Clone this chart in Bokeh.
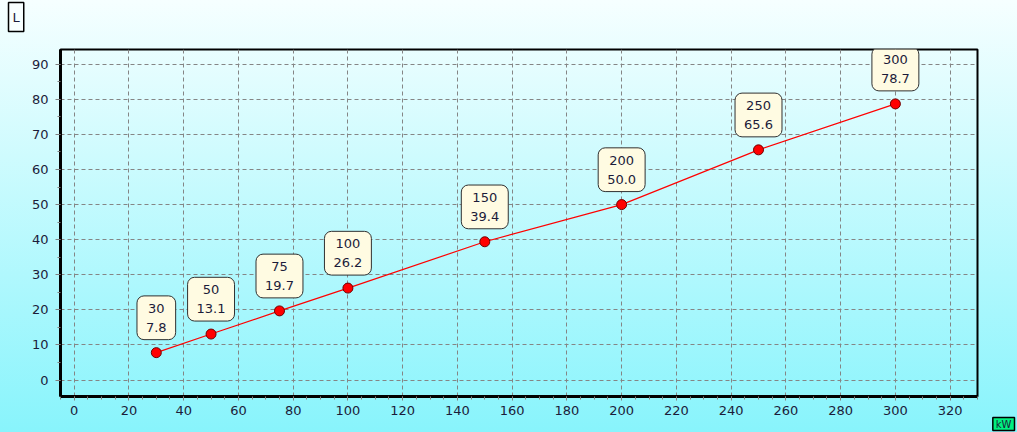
from bokeh.plotting import figure
from bokeh.models import Label, SingleIntervalTicker, Range1d, Title
from bokeh.embed import file_html
from bokeh.resources import INLINE

# data
power_kw = [30, 50, 75, 100, 150, 200, 250, 300]
flow_l = [7.8, 13.1, 19.7, 26.2, 39.4, 50.0, 65.6, 78.7]
x_label = "kW"
y_label = "L"

FONT = "DejaVu Sans"
TXT = "#1c1c3a"

p = figure(
    frame_width=917, frame_height=347,
    min_border_left=60, min_border_top=49, min_border_right=40, min_border_bottom=36,
    x_range=Range1d(-5, 330), y_range=Range1d(-4.7, 94.2),
    output_backend="svg", toolbar_location=None, tools="",
)
p.border_fill_color = None
p.background_fill_color = None
p.styles = {"background": "linear-gradient(to bottom, #f6ffff 0%, #88f4fc 100%)"}
p.outline_line_color = "black"
p.outline_line_width = 2

p.xaxis.ticker = SingleIntervalTicker(interval=20, num_minor_ticks=4)
p.yaxis.ticker = SingleIntervalTicker(interval=10, num_minor_ticks=2)
for ax in (p.xaxis, p.yaxis):
    ax.axis_line_color = "black"
    ax.axis_line_width = 3
    ax.major_tick_in = 0
    ax.major_tick_out = 5
    ax.minor_tick_in = 0
    ax.minor_tick_out = 3
    ax.major_tick_line_color = "#808080"
    ax.minor_tick_line_color = "#808080"
    ax.major_label_text_font = FONT
    ax.major_label_text_font_size = "13px"
    ax.major_label_text_color = TXT
p.xaxis.major_tick_out = 4
p.xaxis.major_label_standoff = 5
p.yaxis.major_label_standoff = 7

for g in (p.xgrid, p.ygrid):
    g.grid_line_color = "#858585"
    g.grid_line_dash = "4 3"
    g.grid_line_width = 1

p.line(power_kw, flow_l, line_color="red", line_width=1.2)
p.scatter(power_kw, flow_l, marker="circle", size=10, fill_color="red", line_color="#700000", line_width=1)

for xv, yv in zip(power_kw, flow_l):
    p.add_layout(Label(
        x=xv, y=yv, y_offset=13, text=f"{xv}\n{yv:.1f}",
        anchor="bottom_center", text_align="center",
        text_font=FONT, text_font_size="13px", text_color=TXT, text_line_height=1.25,
        background_fill_color="#fffbe2", border_line_color="#303030", border_line_width=1,
        padding=dict(left=9, right=9, top=5, bottom=5), border_radius=7,
    ))

# spacer between the frame and the axis-name box above it (closest to the frame)
p.add_layout(Title(text=" ", text_font_size="13px", standoff=1), "above")

# y axis name box (outermost item above the frame)
p.title.text = y_label
p.title.align = "left"
p.title.offset = -52
p.title.standoff = 0
p.title.text_font = FONT
p.title.text_font_size = "13px"
p.title.text_font_style = "normal"
p.title.text_color = TXT
p.title.background_fill_color = "#f8ffff"
p.title.border_line_color = "black"
p.title.border_line_width = 1.5
p.title.padding = dict(left=4, right=4, top=7, bottom=7)

# x axis name box, bottom right
p.add_layout(Title(
    text=x_label, align="right", offset=-37, standoff=0, vertical_align="top",
    text_font=FONT, text_font_size="10px", text_font_style="normal", text_color=TXT,
    background_fill_color="#00f080", border_line_color="black", border_line_width=1.5,
    padding=dict(left=3, right=3, top=1, bottom=1),
), "below")

open("out.html", "w").write(file_html(p, INLINE))
